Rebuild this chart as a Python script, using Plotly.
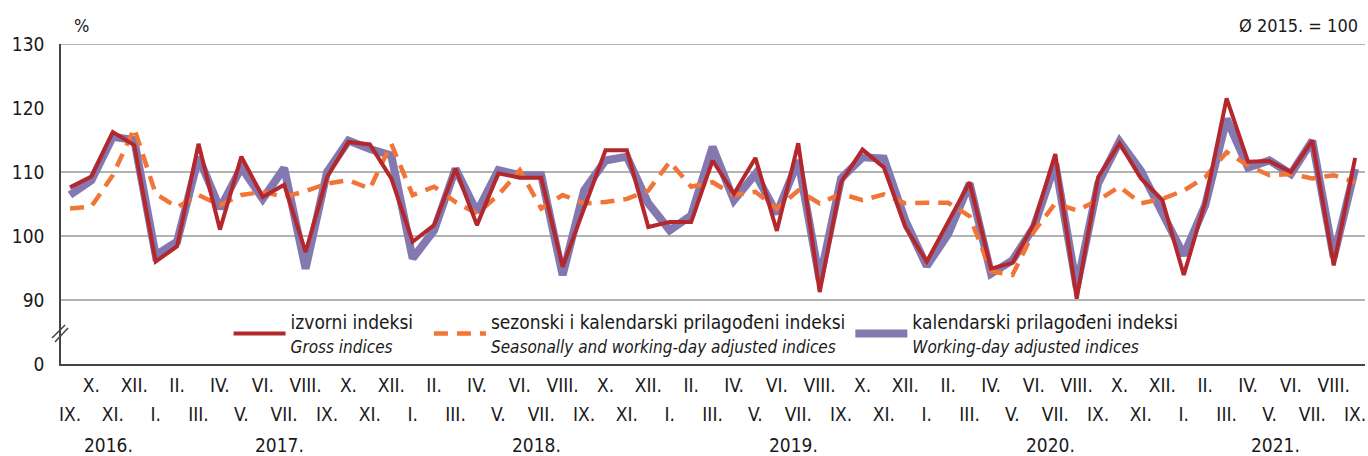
import plotly.graph_objects as go

roman = ["I.", "II.", "III.", "IV.", "V.", "VI.", "VII.", "VIII.", "IX.", "X.", "XI.", "XII."]
month_labels = roman[8:] + roman * 4 + roman[:9]
month_years = [2016] * 4 + [2017] * 12 + [2018] * 12 + [2019] * 12 + [2020] * 12 + [2021] * 9
year_labels = ["2016.", "2017.", "2018.", "2019.", "2020.", "2021."]

gross = [107.6, 109.3, 116.25, 114.2, 96.0, 98.4, 114.4, 101.0, 112.4, 106.1,
         108.0, 97.5, 109.2, 114.7, 114.3, 109.0, 99.1, 101.7, 110.5, 101.7,
         109.8, 109.1, 109.1, 95.2, 104.3, 113.4, 113.4, 101.4, 102.2, 102.2,
         111.8, 106.6, 112.2, 100.8, 114.5, 91.25, 108.4, 113.5, 110.7, 101.4,
         96.0, 102.3, 108.4, 94.9, 95.8, 101.9, 112.8, 90.2, 109.2, 114.5,
         109.0, 105.6, 93.9, 105.3, 121.5, 111.6, 111.7, 110.0, 114.9, 95.4, 112.2]

seasonal = [104.3, 104.6, 109.5, 116.8, 106.6, 104.5, 106.4, 104.8, 106.4, 106.9,
            106.1, 107.0, 108.2, 108.7, 107.4, 114.4, 106.4, 107.7, 105.3, 103.5,
            106.4, 110.3, 104.3, 106.4, 105.1, 105.3, 105.8, 107.1, 111.6, 107.7,
            108.4, 106.4, 106.9, 104.3, 107.1, 105.1, 106.6, 105.6, 106.5, 105.1,
            105.2, 105.2, 103.1, 94.5, 93.9, 100.7, 105.1, 104.0, 105.6, 107.7,
            105.1, 105.8, 107.1, 109.2, 113.1, 111.0, 109.5, 109.7, 109.0, 109.5, 108.4]

workday = [106.4, 108.7, 115.5, 115.0, 97.0, 99.1, 112.3, 104.3, 110.7, 105.8,
           110.6, 94.9, 110.0, 114.9, 113.6, 112.6, 96.5, 100.9, 110.5, 103.75,
           110.3, 109.5, 109.5, 93.9, 107.1, 111.8, 112.4, 105.1, 100.9, 103.2,
           113.9, 105.6, 109.7, 103.5, 111.8, 93.1, 109.0, 112.3, 112.1, 102.4,
           95.3, 100.3, 108.2, 94.1, 96.2, 101.4, 111.3, 92.0, 108.2, 114.8,
           110.2, 103.3, 97.0, 104.8, 118.3, 110.7, 111.8, 109.7, 114.9, 96.7, 110.5]

y_tickvals = [80, 90, 100, 110, 120, 130]
y_ticktext = ["0", "90", "100", "110", "120", "130"]
grid_vals = [90, 100, 110, 130]

FONT = "DejaVu Sans Condensed, Liberation Sans Narrow, Arial Narrow, Liberation Sans, sans-serif"
RED = "#B3272D"
ORANGE = "#F07537"
PURPLE = "#8379B0"


def legend_name(main, sub, pad=0):
    return main + "&nbsp;" * pad + "<br><i><span style='font-size:17px'>" + sub + "</span></i>"


x = list(range(len(month_labels)))

fig = go.Figure()
fig.add_trace(go.Scatter(
    x=x, y=workday, mode="lines",
    name=legend_name("kalendarski prilagođeni indeksi", "Working-day adjusted indices"),
    line=dict(color=PURPLE, width=8), legendrank=3))
fig.add_trace(go.Scatter(
    x=x, y=seasonal, mode="lines",
    name=legend_name("sezonski i kalendarski prilagođeni indeksi", "Seasonally and working-day adjusted indices"),
    line=dict(color=ORANGE, width=4.5, dash="14px,9px"), legendrank=2))
fig.add_trace(go.Scatter(
    x=x, y=gross, mode="lines", xaxis="x2",
    name=legend_name("izvorni indeksi", "Gross indices", pad=2),
    line=dict(color=RED, width=4), legendrank=1))

for g in grid_vals:
    fig.add_hline(y=g, line=dict(color="#9a9a9a", width=1.5), layer="below")

odd = [i for i in x if i % 2 == 1]
even = [i for i in x if i % 2 == 0]
xr = [-0.42, len(x) - 1 + 0.46]

fig.update_layout(
    width=1368, height=456,
    margin=dict(l=61, r=3, t=44, b=92),
    paper_bgcolor="white", plot_bgcolor="white",
    font=dict(family=FONT, size=19, color="#1a1a1a"),
    showlegend=True,
    legend=dict(orientation="h", x=0.1285, y=0.094, xanchor="left", yanchor="middle",
                bgcolor="rgba(0,0,0,0)", font=dict(size=19), itemwidth=52,
                traceorder="normal", valign="middle"),
    xaxis=dict(range=xr, tickvals=odd, ticktext=[month_labels[i] for i in odd],
               showgrid=False, zeroline=False, showline=True, linecolor="#444", linewidth=1.5,
               ticks="", ticklabelstandoff=3, tickfont=dict(size=19)),
    xaxis2=dict(range=xr, overlaying="x", anchor="y", side="bottom",
                tickvals=even, ticktext=[month_labels[i] for i in even],
                showgrid=False, zeroline=False, showline=False, ticks="",
                ticklabelstandoff=37, tickfont=dict(size=19)),
    yaxis=dict(range=[80, 130], tickvals=y_tickvals, ticktext=y_ticktext,
               showgrid=False, zeroline=False, showline=True, linecolor="#444", linewidth=1.5,
               ticks="", ticklabelstandoff=11, tickfont=dict(size=19)),
)

# year labels centred under each year's months
for yl, yr in zip(year_labels, sorted(set(month_years))):
    idx = [i for i in x if month_years[i] == yr]
    fig.add_annotation(x=sum(idx) / len(idx) + 0.3, y=-0.254, xref="x", yref="paper",
                       text=yl, showarrow=False, font=dict(size=19), yanchor="middle")

fig.add_annotation(x=0.0084, y=1.059, xref="paper", yref="paper", text="%",
                   showarrow=False, font=dict(size=18), yanchor="middle")
fig.add_annotation(x=0.9962, y=1.059, xref="paper", yref="paper", text="Ø 2015. = 100",
                   showarrow=False, font=dict(size=18), xanchor="right", yanchor="middle")

# axis break marks
for (x0, y0, x1, y1) in [(-0.0069, 0.081, 0.0031, 0.122), (-0.0046, 0.069, 0.0054, 0.1125)]:
    fig.add_shape(type="line", xref="paper", yref="paper", x0=x0, y0=y0, x1=x1, y1=y1,
                  line=dict(color="#444", width=1.5))

fig.write_html("out.html", config={"displayModeBar": False},
               post_script="document.body.style.margin='0px';")
